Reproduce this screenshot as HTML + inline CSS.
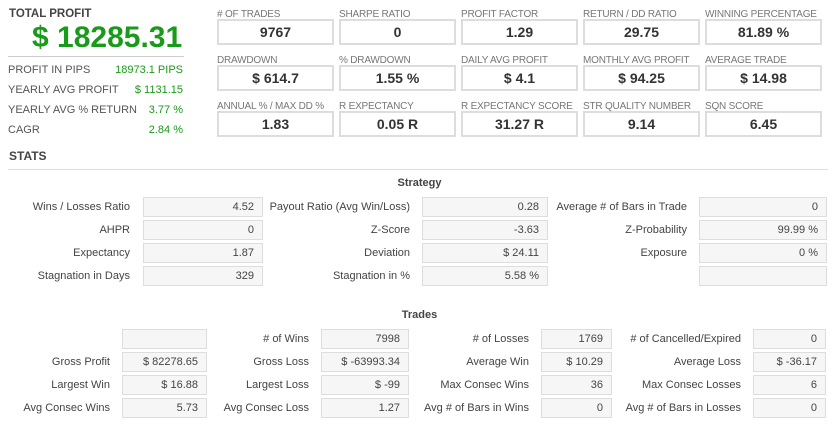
<!DOCTYPE html>
<html><head><meta charset="utf-8"><style>
*{margin:0;padding:0;box-sizing:border-box}
body{width:839px;height:440px;background:#fff;font-family:"Liberation Sans",Arial,sans-serif;position:relative;overflow:hidden;color:#333}
.a{position:absolute;white-space:nowrap}
.tl{font-size:10px;color:#777;letter-spacing:-0.2px}
.tb{border:2px solid #ddd;background:#fff;font-weight:bold;font-size:14px;color:#333;text-align:center;line-height:23px;height:26px;width:117px}
.lr{font-size:11px;color:#555}
.lg{font-size:11px;color:#1a9a1a;text-align:right}
.sl{font-size:11px;color:#444;text-align:right;line-height:20px}
.sb{background:#f6f6f6;border:1px solid #ddd;font-size:11px;color:#444;text-align:right;padding-right:8px;line-height:18px;height:20px}
.h{font-size:11px;font-weight:bold;color:#444;text-align:center}
</style></head><body>
<div class="a" style="left:9px;top:8px;font-size:11.5px;font-weight:bold;color:#444">TOTAL PROFIT</div>
<div class="a" style="left:32px;top:21px;font-size:30px;font-weight:bold;color:#1a9a1a">$ 18285.31</div>
<div class="a" style="left:8px;top:56px;width:176px;border-top:1px solid #ccc"></div>
<div class="a lr" style="left:8px;top:64px">PROFIT IN PIPS</div><div class="a lg" style="left:100px;width:83px;top:64px">18973.1 PIPS</div>
<div class="a lr" style="left:8px;top:84px">YEARLY AVG PROFIT</div><div class="a lg" style="left:100px;width:83px;top:84px">$ 1131.15</div>
<div class="a lr" style="left:8px;top:104px">YEARLY AVG % RETURN</div><div class="a lg" style="left:100px;width:83px;top:104px">3.77 %</div>
<div class="a lr" style="left:8px;top:124px">CAGR</div><div class="a lg" style="left:100px;width:83px;top:124px">2.84 %</div>

<div class="a tl" style="left:217px;top:9px"># OF TRADES</div><div class="a tb" style="left:217px;top:19px">9767</div>
<div class="a tl" style="left:339px;top:9px">SHARPE RATIO</div><div class="a tb" style="left:339px;top:19px">0</div>
<div class="a tl" style="left:461px;top:9px">PROFIT FACTOR</div><div class="a tb" style="left:461px;top:19px">1.29</div>
<div class="a tl" style="left:583px;top:9px">RETURN / DD RATIO</div><div class="a tb" style="left:583px;top:19px">29.75</div>
<div class="a tl" style="left:705px;top:9px">WINNING PERCENTAGE</div><div class="a tb" style="left:705px;top:19px">81.89 %</div>

<div class="a tl" style="left:217px;top:55px">DRAWDOWN</div><div class="a tb" style="left:217px;top:65px">$ 614.7</div>
<div class="a tl" style="left:339px;top:55px">% DRAWDOWN</div><div class="a tb" style="left:339px;top:65px">1.55 %</div>
<div class="a tl" style="left:461px;top:55px">DAILY AVG PROFIT</div><div class="a tb" style="left:461px;top:65px">$ 4.1</div>
<div class="a tl" style="left:583px;top:55px">MONTHLY AVG PROFIT</div><div class="a tb" style="left:583px;top:65px">$ 94.25</div>
<div class="a tl" style="left:705px;top:55px">AVERAGE TRADE</div><div class="a tb" style="left:705px;top:65px">$ 14.98</div>

<div class="a tl" style="left:217px;top:101px">ANNUAL % / MAX DD %</div><div class="a tb" style="left:217px;top:111px">1.83</div>
<div class="a tl" style="left:339px;top:101px">R EXPECTANCY</div><div class="a tb" style="left:339px;top:111px">0.05 R</div>
<div class="a tl" style="left:461px;top:101px">R EXPECTANCY SCORE</div><div class="a tb" style="left:461px;top:111px">31.27 R</div>
<div class="a tl" style="left:583px;top:101px">STR QUALITY NUMBER</div><div class="a tb" style="left:583px;top:111px">9.14</div>
<div class="a tl" style="left:705px;top:101px">SQN SCORE</div><div class="a tb" style="left:705px;top:111px">6.45</div>

<div class="a" style="left:9px;top:149px;font-size:12px;font-weight:bold;color:#444">STATS</div>
<div class="a" style="left:8px;top:169px;width:820px;border-top:1px solid #ddd"></div>

<div class="a h" style="left:0;width:839px;top:177px">Strategy</div>
<div class="a sl" style="left:0;width:130px;top:197px">Wins / Losses Ratio</div><div class="a sb" style="left:143px;width:120px;top:197px">4.52</div>
<div class="a sl" style="left:260px;width:150px;top:197px">Payout Ratio (Avg Win/Loss)</div><div class="a sb" style="left:422px;width:126px;top:197px">0.28</div>
<div class="a sl" style="left:540px;width:147px;top:197px">Average # of Bars in Trade</div><div class="a sb" style="left:699px;width:128px;top:197px">0</div>
<div class="a sl" style="left:0;width:130px;top:220px">AHPR</div><div class="a sb" style="left:143px;width:120px;top:220px">0</div>
<div class="a sl" style="left:260px;width:150px;top:220px">Z-Score</div><div class="a sb" style="left:422px;width:126px;top:220px">-3.63</div>
<div class="a sl" style="left:540px;width:147px;top:220px">Z-Probability</div><div class="a sb" style="left:699px;width:128px;top:220px">99.99 %</div>
<div class="a sl" style="left:0;width:130px;top:243px">Expectancy</div><div class="a sb" style="left:143px;width:120px;top:243px">1.87</div>
<div class="a sl" style="left:260px;width:150px;top:243px">Deviation</div><div class="a sb" style="left:422px;width:126px;top:243px">$ 24.11</div>
<div class="a sl" style="left:540px;width:147px;top:243px">Exposure</div><div class="a sb" style="left:699px;width:128px;top:243px">0 %</div>
<div class="a sl" style="left:0;width:130px;top:266px">Stagnation in Days</div><div class="a sb" style="left:143px;width:120px;top:266px">329</div>
<div class="a sl" style="left:260px;width:150px;top:266px">Stagnation in %</div><div class="a sb" style="left:422px;width:126px;top:266px">5.58 %</div>
<div class="a sb" style="left:699px;width:128px;top:266px"></div>

<div class="a h" style="left:0;width:839px;top:309px">Trades</div>
<div class="a sb" style="left:122px;width:85px;top:329px"></div>
<div class="a sl" style="left:200px;width:109px;top:329px"># of Wins</div><div class="a sb" style="left:321px;width:88px;top:329px">7998</div>
<div class="a sl" style="left:410px;width:119px;top:329px"># of Losses</div><div class="a sb" style="left:541px;width:71px;top:329px">1769</div>
<div class="a sl" style="left:610px;width:131px;top:329px"># of Cancelled/Expired</div><div class="a sb" style="left:753px;width:73px;top:329px">0</div>

<div class="a sl" style="left:0;width:110px;top:352px">Gross Profit</div><div class="a sb" style="left:122px;width:85px;top:352px">$ 82278.65</div>
<div class="a sl" style="left:200px;width:109px;top:352px">Gross Loss</div><div class="a sb" style="left:321px;width:88px;top:352px">$ -63993.34</div>
<div class="a sl" style="left:410px;width:119px;top:352px">Average Win</div><div class="a sb" style="left:541px;width:71px;top:352px">$ 10.29</div>
<div class="a sl" style="left:610px;width:131px;top:352px">Average Loss</div><div class="a sb" style="left:753px;width:73px;top:352px">$ -36.17</div>

<div class="a sl" style="left:0;width:110px;top:375px">Largest Win</div><div class="a sb" style="left:122px;width:85px;top:375px">$ 16.88</div>
<div class="a sl" style="left:200px;width:109px;top:375px">Largest Loss</div><div class="a sb" style="left:321px;width:88px;top:375px">$ -99</div>
<div class="a sl" style="left:410px;width:119px;top:375px">Max Consec Wins</div><div class="a sb" style="left:541px;width:71px;top:375px">36</div>
<div class="a sl" style="left:610px;width:131px;top:375px">Max Consec Losses</div><div class="a sb" style="left:753px;width:73px;top:375px">6</div>

<div class="a sl" style="left:0;width:110px;top:398px">Avg Consec Wins</div><div class="a sb" style="left:122px;width:85px;top:398px">5.73</div>
<div class="a sl" style="left:200px;width:109px;top:398px">Avg Consec Loss</div><div class="a sb" style="left:321px;width:88px;top:398px">1.27</div>
<div class="a sl" style="left:410px;width:119px;top:398px">Avg # of Bars in Wins</div><div class="a sb" style="left:541px;width:71px;top:398px">0</div>
<div class="a sl" style="left:610px;width:131px;top:398px">Avg # of Bars in Losses</div><div class="a sb" style="left:753px;width:73px;top:398px">0</div>
</body></html>
